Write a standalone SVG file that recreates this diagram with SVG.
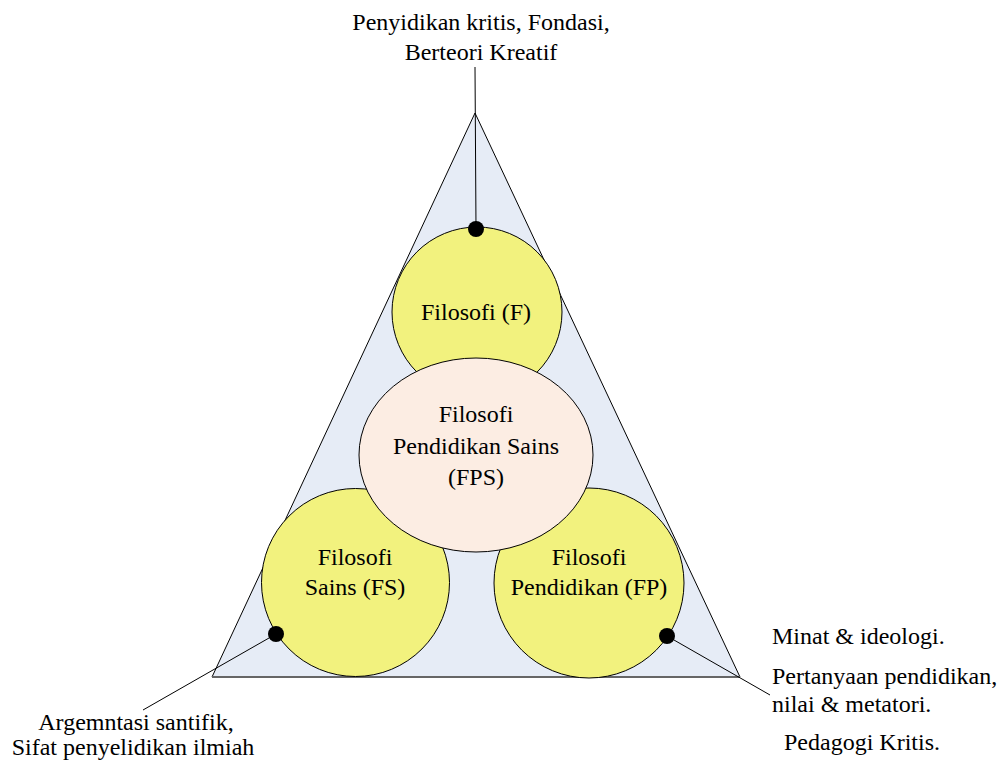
<svg xmlns="http://www.w3.org/2000/svg" width="1005" height="762" viewBox="0 0 1005 762">
<defs>
<style>
.yc{fill:#F2F27E;stroke:#000;stroke-width:1}
.ln{stroke:#000;stroke-width:1;fill:none}
.dot{fill:#000}
</style>
</defs>
<rect width="1005" height="762" fill="#fff"/>
<g id="triangle">
<polygon points="475,113 212,677 740,677" fill="#E6ECF6" stroke="#000" stroke-width="1"/>
<line x1="212" y1="677" x2="740" y2="677" stroke="#666" stroke-width="2"/>
</g>
<g font-family="Liberation Serif, serif" font-size="24" fill="#000">
<g id="node-F">
<circle class="yc" cx="477" cy="312" r="85"/>
<text text-anchor="middle" x="476" y="320">Filosofi (F)</text>
</g>
<g id="node-FS">
<circle class="yc" cx="355.5" cy="582.5" r="94"/>
<text text-anchor="middle" x="355" y="565">Filosofi</text>
<text text-anchor="middle" x="355" y="595">Sains (FS)</text>
</g>
<g id="node-FP">
<circle class="yc" cx="589" cy="583" r="95"/>
<text text-anchor="middle" x="589" y="565">Filosofi</text>
<text text-anchor="middle" x="589" y="595">Pendidikan (FP)</text>
</g>
<g id="node-FPS">
<ellipse cx="476" cy="455" rx="117" ry="97" fill="#FCEDE3" stroke="#000" stroke-width="1"/>
<text text-anchor="middle" x="476" y="422">Filosofi</text>
<text text-anchor="middle" x="476" y="454">Pendidikan Sains</text>
<text text-anchor="middle" x="476" y="485">(FPS)</text>
</g>
<g id="connectors">
<line class="ln" x1="475" y1="67" x2="476" y2="229"/>
<line class="ln" x1="276" y1="634" x2="143" y2="710"/>
<line class="ln" x1="667" y1="636" x2="770" y2="695"/>
<circle class="dot" cx="476" cy="229" r="8"/>
<circle class="dot" cx="276" cy="634" r="8"/>
<circle class="dot" cx="667" cy="636" r="8"/>
</g>
<g id="label-top">
<text text-anchor="middle" x="481" y="30">Penyidikan kritis, Fondasi,</text>
<text text-anchor="middle" x="481" y="60">Berteori Kreatif</text>
</g>
<g id="label-left">
<text text-anchor="middle" x="136" y="730">Argemntasi santifik,</text>
<text text-anchor="middle" x="133" y="755">Sifat penyelidikan ilmiah</text>
</g>
<g id="label-right">
<text x="772" y="644">Minat &amp; ideologi.</text>
<text x="772" y="684">Pertanyaan pendidikan,</text>
<text x="772" y="712">nilai &amp; metatori.</text>
<text x="784" y="750">Pedagogi Kritis.</text>
</g>
</g>
</svg>
